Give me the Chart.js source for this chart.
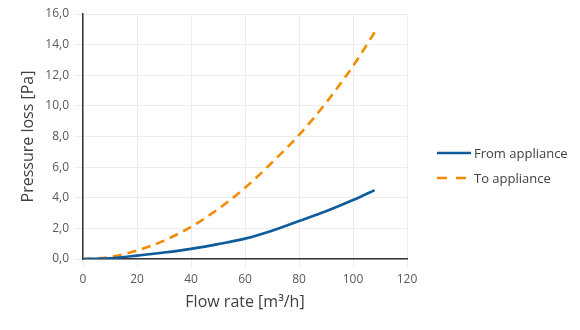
<!DOCTYPE html>
<html>
<head>
<meta charset="utf-8">
<script src="https://cdn.jsdelivr.net/npm/chart.js@4/dist/chart.umd.min.js"></script>
<style>
  html, body { margin: 0; padding: 0; background: #fff; }
  #wrap { width: 580px; height: 330px; position: relative; }
  #legend {
    position: absolute; left: 437px; top: 140px;
    font-family: "Open Sans", "Noto Sans", sans-serif; font-size: 13px; color: #404040;
  }
  .legend-item { display: flex; align-items: center; height: 25px; white-space: nowrap; }
  .legend-item svg { margin-right: 3px; }
</style>
</head>
<body>
<div id="wrap"><canvas id="lossChart"></canvas><div id="legend"></div></div>
<script>
const flowRate = [0, 10, 20, 30, 40, 50, 60, 70, 80, 90, 100, 108];
const fromAppliance = [0, 0.05, 0.22, 0.42, 0.66, 0.97, 1.33, 1.85, 2.48, 3.12, 3.85, 4.5];
const toAppliance = [0, 0.13, 0.55, 1.2, 2.1, 3.25, 4.65, 6.3, 8.1, 10.2, 12.6, 14.8];
const seriesNames = ['From appliance', 'To appliance'];

const font = '"Open Sans", "Noto Sans", sans-serif';

function toPoints(ys) {
  return flowRate.map((x, i) => ({ x: x, y: ys[i] }));
}

// legend as html, built from the chart's datasets
const htmlLegend = {
  id: 'htmlLegend',
  afterUpdate(chart) {
    const box = document.getElementById('legend');
    box.innerHTML = '';
    chart.data.datasets.forEach(ds => {
      const row = document.createElement('div');
      row.className = 'legend-item';
      const dash = ds.legendDash ? ds.legendDash.join(',') : 'none';
      row.innerHTML =
        '<svg width="34" height="6"><line x1="0" y1="3" x2="34" y2="3" stroke="' + ds.borderColor +
        '" stroke-width="2.5" stroke-dasharray="' + dash + '"/></svg>';
      const label = document.createElement('span');
      label.textContent = ds.label;
      row.appendChild(label);
      box.appendChild(row);
    });
  }
};

const ctx = document.getElementById('lossChart').getContext('2d');
new Chart(ctx, {
  type: 'line',
  data: {
    datasets: [{
      label: seriesNames[0],
      data: toPoints(fromAppliance),
      borderColor: '#0e5c9b',
      borderWidth: 2.6,
      pointRadius: 0,
      cubicInterpolationMode: 'monotone',
      fill: false
    },
    {
      label: seriesNames[1],
      data: toPoints(toAppliance),
      borderColor: '#f38b00',
      borderWidth: 2.6,
      borderDash: [9, 6],
      legendDash: [10, 9],
      pointRadius: 0,
      cubicInterpolationMode: 'monotone',
      fill: false
    }]
  },
  plugins: [htmlLegend],
  options: {
    responsive: true,
    maintainAspectRatio: false,
    animation: false,
    layout: { padding: { left: 15, right: 173, top: 14, bottom: 14 } },
    plugins: {
      tooltip: { enabled: false },
      legend: { display: false }
    },
    scales: {
      x: {
        type: 'linear',
        min: 0,
        max: 120,
        afterFit: s => { s.height = 57; },
        ticks: { stepSize: 20, color: '#595959', font: { family: font, size: 12 }, padding: 5 },
        grid: { color: '#ececec', lineWidth: 1 },
        border: { color: '#333', width: 1.5 },
        title: {
          display: true,
          text: 'Flow rate [m³/h]',
          color: '#404040',
          font: { family: font, size: 16 },
          padding: { top: 2 }
        }
      },
      y: {
        min: 0,
        max: 16,
        afterFit: s => { s.width = 68; },
        ticks: {
          stepSize: 2,
          color: '#595959',
          font: { family: font, size: 12 },
          padding: 6,
          callback: v => v.toFixed(1).replace('.', ',')
        },
        grid: { color: '#ececec', lineWidth: 1 },
        border: { color: '#333', width: 1.5 },
        title: {
          display: true,
          text: 'Pressure loss [Pa]',
          color: '#404040',
          font: { family: font, size: 16 },
          padding: { bottom: 0 }
        }
      }
    }
  }
});
</script>
</body>
</html>
